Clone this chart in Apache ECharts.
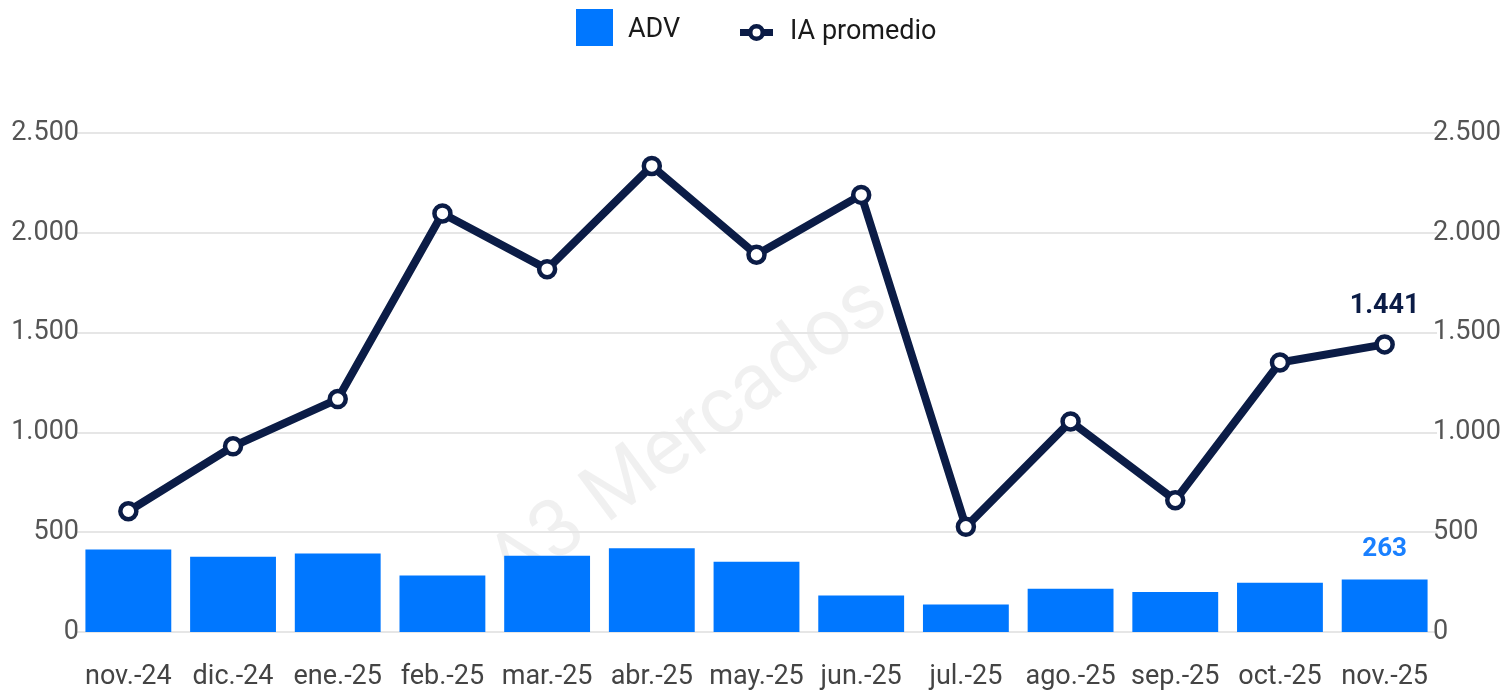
<!DOCTYPE html>
<html>
<head>
<meta charset="utf-8">
<script src="https://cdn.jsdelivr.net/npm/echarts@6/dist/echarts.min.js"></script>
<style>
  html, body { margin: 0; padding: 0; background: #fff; }
  #chart { width: 1508px; height: 691px; }
</style>
</head>
<body>
<div id="chart"></div>
<script>
// meses
var months = ['nov.-24', 'dic.-24', 'ene.-25', 'feb.-25', 'mar.-25', 'abr.-25', 'may.-25',
  'jun.-25', 'jul.-25', 'ago.-25', 'sep.-25', 'oct.-25', 'nov.-25']
// ADV (barras)
var adv = [413, 377, 393, 283, 382, 420, 352, 183, 138, 217, 200, 247, 263]
// IA promedio (linea)
var iaPromedio = [605, 930, 1167, 2097, 1818, 2335, 1890, 2190, 527, 1055, 660, 1350, 1441]
var axisTicks = [0, 500, 1000, 1500, 2000, 2500]

var fmt = function (v) {
  return String(Math.round(v)).replace(/\B(?=(\d{3})+(?!\d))/g, '.')
}
var last = months.length - 1
var navy = '#0b1c46'
// iconos de la leyenda
var squareIcon = 'path://M0 0H37V37H0Z M36.99 42.99H37V43H36.99Z'
var lineIcon = 'path://M0 5H9V12H0Z M24 5H33V12H24Z ' +
  'M8 8.5A8.5 8.5 0 1 1 25 8.5A8.5 8.5 0 1 1 8 8.5Z ' +
  'M12.5 8.5A4 4 0 1 0 20.5 8.5A4 4 0 1 0 12.5 8.5Z'

var myChart = echarts.init(document.getElementById('chart'))
var yAxisBase = {
  type: 'value',
  min: axisTicks[0],
  max: axisTicks[axisTicks.length - 1],
  interval: 500,
  axisLine: { show: false },
  axisTick: { show: false },
  axisLabel: { color: '#555', fontSize: 27, fontFamily: 'Roboto', formatter: fmt, margin: -3 },
  splitLine: { lineStyle: { color: '#e6e6e6', width: 2 } }
}

myChart.setOption({
  animation: false,
  textStyle: { fontFamily: 'Roboto' },
  graphic: [{
    type: 'text',
    x: 690,
    y: 437,
    rotation: 0.64,
    silent: true,
    style: {
      text: 'A3 Mercados',
      x: 0,
      y: 0,
      align: 'center',
      verticalAlign: 'middle',
      fontSize: 80,
      fontFamily: 'Roboto',
      fill: 'rgba(0,0,0,0.06)'
    },
    z: 0
  }],
  legend: [
    {
      left: 576,
      top: 9,
      padding: 0,
      itemWidth: 37,
      itemHeight: 43,
      textStyle: { fontSize: 27, color: '#1a1a1a', padding: [0, 0, 0, 10] },
      data: [{ name: 'ADV', icon: squareIcon }]
    },
    {
      left: 740,
      top: 19,
      padding: 0,
      itemWidth: 33,
      itemHeight: 17,
      itemStyle: { color: navy, borderWidth: 0 },
      textStyle: { fontSize: 27, color: '#1a1a1a', padding: [2, 0, 0, 12] },
      data: [{ name: 'IA promedio', icon: lineIcon }]
    }
  ],
  grid: { left: 76, right: 71, top: 133, bottom: 59 },
  xAxis: {
    type: 'category',
    data: months,
    axisLine: { show: false },
    axisTick: { show: false },
    axisLabel: { color: '#444', fontSize: 27, margin: 32, interval: 0 }
  },
  yAxis: [
    Object.assign({}, yAxisBase, { position: 'left' }),
    Object.assign({}, yAxisBase, {
      position: 'right',
      splitLine: { show: false },
      axisLabel: Object.assign({}, yAxisBase.axisLabel, { margin: -4 })
    })
  ],
  series: [
    {
      name: 'ADV',
      type: 'bar',
      yAxisIndex: 0,
      barCategoryGap: '18%',
      itemStyle: { color: '#0077ff' },
      data: adv.map(function (v, i) {
        return i === last ? {
          value: v,
          label: {
            show: true, position: 'top', distance: 17, formatter: fmt(v),
            color: '#1a80ff', fontSize: 26, fontWeight: 'bold'
          }
        } : v
      }),
      z: 2
    },
    {
      name: 'IA promedio',
      type: 'line',
      yAxisIndex: 1,
      symbol: 'circle',
      symbolSize: 16,
      lineStyle: { color: navy, width: 8 },
      itemStyle: { color: '#fff', borderColor: navy, borderWidth: 4.5 },
      data: iaPromedio.map(function (v, i) {
        return i === last ? {
          value: v,
          label: {
            show: true, position: 'top', distance: 14, formatter: fmt(v),
            color: navy, fontSize: 27, fontWeight: 'bold'
          }
        } : v
      }),
      z: 5
    }
  ]
})
</script>
</body>
</html>
